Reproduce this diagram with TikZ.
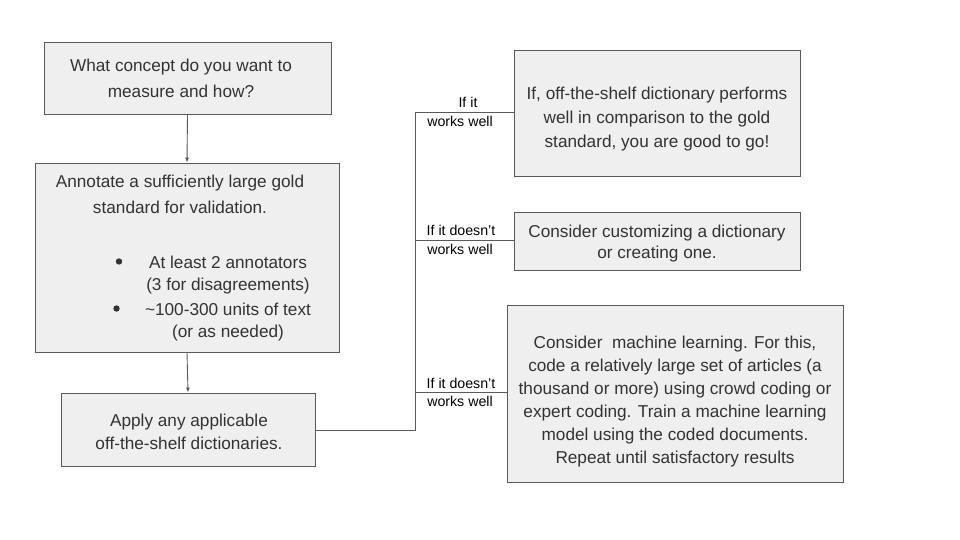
\documentclass[tikz,border=0pt]{standalone}
\usepackage{fontspec}
\setmainfont{Liberation Sans}
\usetikzlibrary{arrows.meta}
\definecolor{boxfill}{HTML}{EFEFEF}
\definecolor{boxline}{HTML}{595959}
\definecolor{txt}{HTML}{333333}
\begin{document}
\begin{tikzpicture}[x=1pt,y=-1pt,
  box/.style={draw=boxline, fill=boxfill, line width=0.9pt, inner sep=0pt},
  txtnode/.style={inner sep=0pt, text=txt, align=center, anchor=center},
  f/.style={font=\fontsize{17.2}{#1}\selectfont},
  lbl/.style={inner sep=0pt, text=black, font=\fontsize{14.2}{18}\selectfont, anchor=center},
  conn/.style={draw=boxline, line width=0.9pt},
  arr/.style={conn, -{Latex[length=5pt,width=4pt]}}
]
\useasboundingbox (0,0) rectangle (960,540);
% boxes
\node[box, minimum width=287pt, minimum height=72pt] (b1) at (187.5,78) {};
\node[box, minimum width=304pt, minimum height=189pt] (b2) at (187,257.5) {};
\node[box, minimum width=254pt, minimum height=73pt] (b3) at (188,429.5) {};
\node[box, minimum width=286pt, minimum height=126pt] (b4) at (657,113) {};
\node[box, minimum width=286pt, minimum height=58pt] (b5) at (657,241) {};
\node[box, minimum width=336pt, minimum height=177pt] (b6) at (675,393.5) {};
% texts
\node[txtnode, f=26] (t1) at (181,78.5) {What concept do you want to\\measure and how?};
\node[txtnode, f=24] (t2a) at (180,183.5) {Annotate a sufficiently large gold};
\node[txtnode, f=24] (t2b) at (180,207.5) {standard for validation.};
\node[txtnode, f=24] (t2c) at (228,262.5) {At least 2 annotators};
\node[txtnode, f=24] (t2d) at (228,286) {(3 for disagreements)};
\node[txtnode, f=24] (t2e) at (228,309.5) {{\char"7E}100-300 units of text};
\node[txtnode, f=24] (t2f) at (228,333) {(or as needed)};
\fill[txt] (119,261.5) circle (3.2pt);
\fill[txt] (116.5,308.5) circle (3.2pt);
\node[txtnode, f=23] (t3) at (189,432) {Apply any applicable\\off-the-shelf dictionaries.};
\node[txtnode, f=24] (t4) at (657,119.5) {If, off-the-shelf dictionary performs\\well in comparison to the gold\\standard, you are good to go!};
\node[txtnode, f=21] (t5) at (657,244) {Consider customizing a dictionary\\or creating one.};
\node[txtnode, f=23] (t6) at (675,401.5) {Consider\ \ machine learning. For this,\\code a relatively large set of articles (a\\thousand or more) using crowd coding or\\expert coding. Train a machine learning\\model using the coded documents.\\Repeat until satisfactory results};
% connectors
\coordinate (trunkT) at (415,112);
\coordinate (trunkB) at (415,430);
\coordinate (j2) at (415,240);
\coordinate (j3) at (415,392);
\draw[arr] (b1.south) -- (b2.north);
\draw[arr] (b2.south) -- (b3.north);
\draw[conn] (b3.east |- trunkB) -- (trunkB) -- (trunkT) -- (trunkT -| b4.west);
\draw[conn] (j2) -- (j2 -| b5.west);
\draw[conn] (j3) -- (j3 -| b6.west);
% labels
\node[lbl] (l1a) at (468,102.5) {If it};
\node[lbl] (l1b) at (460,121.5) {works well};
\node[lbl] (l2a) at (461,230.5) {If it doesn't};
\node[lbl] (l2b) at (460,249) {works well};
\node[lbl] (l3a) at (461,383) {If it doesn't};
\node[lbl] (l3b) at (460,401.5) {works well};
\end{tikzpicture}
\end{document}
